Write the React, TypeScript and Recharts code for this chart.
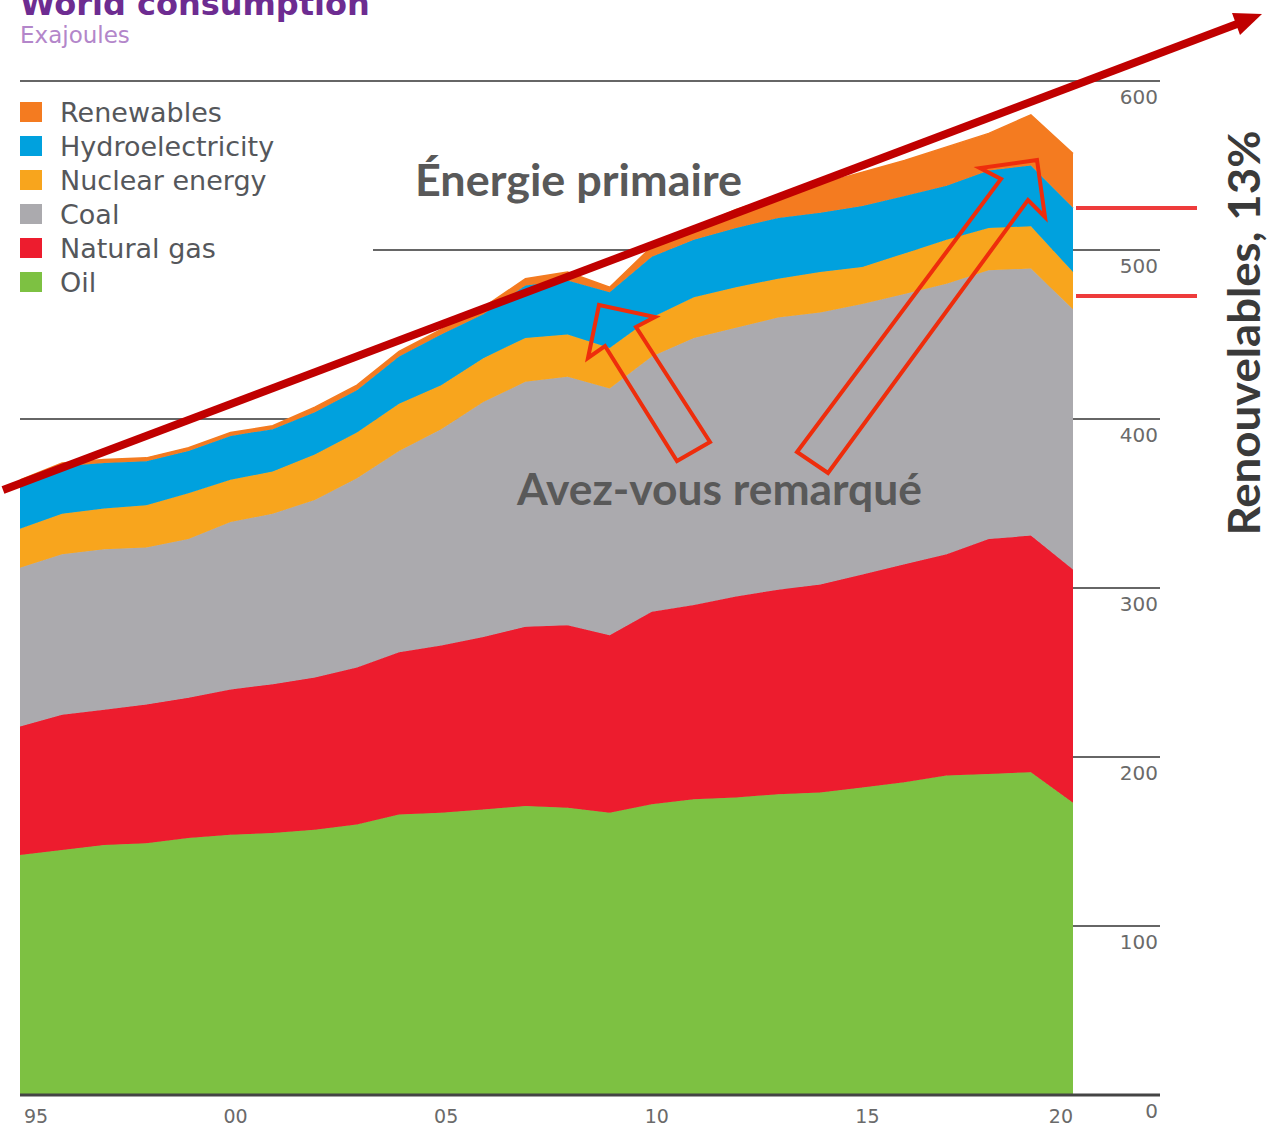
import { AreaChart, Area, XAxis, YAxis, CartesianGrid, Legend } from 'recharts'

// World consumption, exajoules, 1995-2020
const years = [
	1995, 1996, 1997, 1998, 1999, 2000, 2001, 2002, 2003, 2004, 2005, 2006, 2007,
	2008, 2009, 2010, 2011, 2012, 2013, 2014, 2015, 2016, 2017, 2018, 2019, 2020,
]
const oil = [
	142, 145, 148, 149, 152, 154, 155, 157, 160, 166, 167, 169, 171, 170, 167, 172,
	175, 176, 178, 179, 182, 185, 189, 190, 191, 173,
]
const naturalGas = [
	76, 80, 80, 82, 83, 86, 88, 90, 93, 96, 99, 102, 106, 108, 105, 114, 115, 119,
	121, 123, 126, 129, 131, 139, 140, 138,
]
const coal = [
	94, 95, 95, 93, 94, 99, 101, 105, 112, 119, 128, 139, 145, 147, 146, 151, 158,
	159, 161, 161, 160, 160, 160, 159, 158, 154,
]
const nuclear = [
	23, 24, 24, 25, 27, 25, 25, 27, 27, 28, 26, 26, 26, 25, 24, 23, 24, 24, 23, 24,
	22, 24, 26, 25, 25, 22,
]
const hydro = [
	27, 28, 27, 26, 25, 26, 25, 25, 25, 28, 30, 26, 31, 32, 33, 36, 34, 35, 36, 35,
	36, 34, 32, 34, 36, 38,
]
const renewables = [
	2, 2, 2, 2, 2, 2, 2, 3, 3, 3, 3, 4, 4, 5, 3, 6, 7, 11, 13, 17, 20, 21, 23, 22,
	30, 32,
]

const yearTicks = [1995, 2000, 2005, 2010, 2015, 2020]
const valueTicks = [0, 100, 200, 300, 400, 500, 600]

// bottom to top
const series = [
	{ key: 'oil', name: 'Oil', color: '#7dc142', values: oil },
	{ key: 'gas', name: 'Natural gas', color: '#ed1c2e', values: naturalGas },
	{ key: 'coal', name: 'Coal', color: '#abaaae', values: coal },
	{ key: 'nuclear', name: 'Nuclear energy', color: '#f8a51d', values: nuclear },
	{ key: 'hydro', name: 'Hydroelectricity', color: '#00a1de', values: hydro },
	{ key: 'renewables', name: 'Renewables', color: '#f47b20', values: renewables },
]

const data = years.map((year, i) => {
	const row: Record<string, number> = { year }
	series.forEach((s) => {
		row[s.key] = s.values[i]
	})
	return row
})

const W = 1268
const H = 1125
const PLOT_LEFT = 20
const PLOT_RIGHT = 1073
const GRID_END = 1160

const YTick = (props: any) => {
	const { y, payload } = props
	const v = payload.value
	const full = v === 0 || v === 600
	return (
		<g>
			<line
				x1={full ? PLOT_LEFT : PLOT_RIGHT}
				x2={GRID_END}
				y1={y}
				y2={y}
				stroke={v === 0 ? '#444' : '#666'}
				strokeWidth={v === 0 ? 3 : 2}
			/>
			<text
				x={1158}
				y={y + 17}
				textAnchor='end'
				dominantBaseline='middle'
				fontFamily='DejaVu Sans'
				fontSize={20}
				fill='#6a6a6a'>
				{v}
			</text>
		</g>
	)
}

const XTick = (props: any) => {
	const { x, y, payload } = props
	const v = payload.value
	const anchor = v === 1995 ? 'start' : v === 2020 ? 'end' : 'middle'
	const dx = v === 1995 ? 4 : v === 2020 ? 0 : 5
	return (
		<text
			x={x + dx}
			y={y + 14}
			textAnchor={anchor}
			dominantBaseline='middle'
			fontFamily='DejaVu Sans'
			fontSize={19}
			fill='#6a6a6a'>
			{String(v).slice(2)}
		</text>
	)
}

const seriesIndex = (key: string) => series.findIndex((s) => s.key === key)

const renderLegend = (props: any) => {
	// top layer first, as in the stack
	const items = [...(props.payload || [])].sort(
		(a: any, b: any) => seriesIndex(b.dataKey) - seriesIndex(a.dataKey)
	)
	return (
		<div style={{ background: '#fff' }}>
			{items.map((entry: any) => {
				const s = series[seriesIndex(entry.dataKey)]
				return (
					<div
						key={entry.dataKey}
						style={{ display: 'flex', alignItems: 'center', height: 34 }}>
						<div
							style={{
								width: 22,
								height: 20,
								background: s ? s.color : entry.color,
							}}
						/>
						<span
							style={{
								marginLeft: 18,
								fontFamily: 'DejaVu Sans',
								fontSize: 27,
								color: '#55575b',
								whiteSpace: 'nowrap',
							}}>
							{entry.value}
						</span>
					</div>
				)
			})}
		</div>
	)
}

export default function App() {
	return (
		<div
			style={{
				position: 'absolute',
				left: 0,
				top: 0,
				width: W,
				height: H,
				background: '#fff',
				overflow: 'hidden',
			}}>
			<AreaChart
				width={W}
				height={H}
				data={data}
				margin={{ top: 81, right: 100, left: 20, bottom: 0 }}>
				<CartesianGrid vertical={false} stroke='#666' strokeWidth={2} />
				<XAxis
					dataKey='year'
					type='number'
					domain={[1995, 2020]}
					ticks={yearTicks}
					interval={0}
					height={30}
					tickLine={false}
					axisLine={false}
					tick={(p: any) => <XTick {...p} />}
				/>
				<YAxis
					orientation='right'
					domain={[0, 600]}
					ticks={valueTicks}
					interval={0}
					width={95}
					tickLine={false}
					axisLine={false}
					tick={(p: any) => <YTick {...p} />}
				/>
				{series.map((s) => (
					<Area
						key={s.key}
						dataKey={s.key}
						name={s.name}
						stackId='1'
						type='linear'
						fill={s.color}
						fillOpacity={1}
						stroke={s.color}
						strokeWidth={s.key === 'renewables' ? 1.5 : 1}
						isAnimationActive={false}
					/>
				))}
				<Legend
					layout='vertical'
					align='center'
					verticalAlign='middle'
					content={renderLegend}
					wrapperStyle={{ left: 20, top: 95, width: 353 }}
				/>
			</AreaChart>

			{/* annotations drawn over the chart */}
			<svg
				width={W}
				height={H}
				style={{ position: 'absolute', left: 0, top: 0, pointerEvents: 'none' }}>
				<text
					x={20}
					y={15}
					fontFamily='DejaVu Sans'
					fontWeight='bold'
					fontSize={32}
					fill='#6d2c91'>
					World consumption
				</text>
				<text x={20} y={43} fontFamily='DejaVu Sans' fontSize={23} fill='#b386ca'>
					Exajoules
				</text>

				<line x1={3} y1={490} x2={1237} y2={24} stroke='#c00000' strokeWidth={8} />
				<polygon points='1262,14 1240,35 1232,13' fill='#c00000' />

				<text
					x={415}
					y={196}
					fontFamily='Lato'
					fontWeight='bold'
					fontSize={43}
					textLength={327}
					lengthAdjust='spacingAndGlyphs'
					fill='#595959'>
					Énergie primaire
				</text>
				<text
					x={517}
					y={505}
					fontFamily='Lato'
					fontWeight='bold'
					fontSize={43}
					textLength={405}
					lengthAdjust='spacingAndGlyphs'
					fill='#595959'>
					Avez-vous remarqué
				</text>

				<polygon
					points='599,305 655,317 636,327 710,442 677,461 605,346 588,358'
					fill='none'
					stroke='#ee2d0c'
					strokeWidth={4}
					strokeLinejoin='miter'
				/>
				<polygon
					points='1037,160 1045,217 1028,200 828,473 797,452 1001,179 980,168'
					fill='none'
					stroke='#ee2d0c'
					strokeWidth={4}
					strokeLinejoin='miter'
				/>

				<line x1={1076} x2={1197} y1={208} y2={208} stroke='#ee3b3b' strokeWidth={4} />
				<line x1={1076} x2={1197} y1={296} y2={296} stroke='#ee3b3b' strokeWidth={4} />

				<text
					transform='translate(1260,333) rotate(-90)'
					textAnchor='middle'
					fontFamily='Lato'
					fontWeight='bold'
					fontSize={44}
					textLength={405}
					lengthAdjust='spacingAndGlyphs'
					fill='#3a3a3a'>
					Renouvelables, 13%
				</text>
			</svg>
		</div>
	)
}
